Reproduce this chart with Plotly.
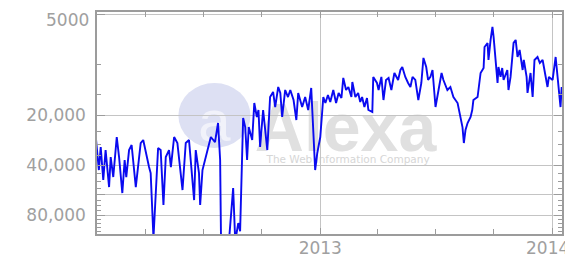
import numpy as np
import pandas as pd
import plotly.graph_objects as go

# decimal years and Alexa traffic rank values
years_2012 = [
    2012.033, 2012.047, 2012.055, 2012.066, 2012.076, 2012.091, 2012.098, 2012.109, 2012.124, 2012.134,
    2012.148, 2012.158, 2012.165, 2012.177, 2012.188, 2012.206, 2012.227, 2012.238, 2012.263, 2012.270,
    2012.282, 2012.302, 2012.313, 2012.325, 2012.335, 2012.349, 2012.357, 2012.371, 2012.385, 2012.407,
    2012.421, 2012.435, 2012.457, 2012.464, 2012.478, 2012.483, 2012.493, 2012.507, 2012.529, 2012.547,
    2012.560, 2012.569, 2012.573, 2012.595, 2012.608, 2012.625, 2012.634, 2012.647, 2012.655, 2012.668,
    2012.677, 2012.685, 2012.692, 2012.707, 2012.716, 2012.727, 2012.734, 2012.741, 2012.754, 2012.772,
    2012.784, 2012.797, 2012.806, 2012.819, 2012.828, 2012.836, 2012.849, 2012.861, 2012.871, 2012.885,
    2012.897, 2012.905, 2012.922, 2012.935, 2012.948, 2012.961, 2012.970, 2012.978, 2012.987, 2013.000,
]
ranks_2012 = [
    26390, 42870, 31170, 49250, 32490, 54270, 35800, 47240, 27130, 35800,
    58960, 37320, 47240, 32490, 30310, 54270, 29490, 28280, 41130, 44690,
    110000, 31600, 32490, 69640, 35800, 32490, 41130, 27130, 29490, 56570,
    29490, 28280, 64980, 32490, 44690, 69640, 42870, 35800, 27130, 29080,
    22350, 37320, 120000, 160000, 110000, 55030, 115000, 89390, 100000, 20840,
    23630, 37320, 23630, 28280, 16940, 20560, 18660, 31170, 18660, 32490,
    15590, 14540, 17910, 13560, 14740, 20560, 14140, 15590, 14140, 16250,
    21440, 14740, 17910, 15590, 18660, 13750, 23630, 42870, 33870, 27130,
]
years_2013 = [
    2013.013, 2013.022, 2013.033, 2013.043, 2013.056, 2013.068, 2013.079, 2013.091, 2013.099, 2013.111,
    2013.121, 2013.134, 2013.138, 2013.151, 2013.163, 2013.172, 2013.180, 2013.190, 2013.201, 2013.207,
    2013.224, 2013.228, 2013.244, 2013.251, 2013.263, 2013.272, 2013.283, 2013.294, 2013.306, 2013.319,
    2013.335, 2013.345, 2013.353, 2013.366, 2013.378, 2013.388, 2013.397, 2013.409, 2013.422, 2013.435,
    2013.444, 2013.456, 2013.464, 2013.474, 2013.483, 2013.496, 2013.509, 2013.522, 2013.530, 2013.547,
    2013.560, 2013.573, 2013.591, 2013.603, 2013.612, 2013.618, 2013.625, 2013.634, 2013.647, 2013.654,
    2013.659, 2013.677, 2013.690, 2013.703, 2013.707, 2013.720, 2013.724, 2013.733, 2013.741, 2013.746,
    2013.754, 2013.763, 2013.767, 2013.776, 2013.783, 2013.789, 2013.805, 2013.810, 2013.819, 2013.832,
    2013.841, 2013.849, 2013.858, 2013.871, 2013.876, 2013.888, 2013.892, 2013.905, 2013.914, 2013.922,
    2013.935, 2013.945, 2013.957, 2013.966, 2013.978, 2013.984, 2014.000, 2014.013, 2014.022, 2014.026,
    2014.034, 2014.039,
]
ranks_2013 = [
    15590, 16940, 15160, 16700, 14140, 16940, 14740, 15800, 11970, 14140,
    13560, 15590, 12660, 15590, 14740, 16700, 15590, 17910, 15800, 18660,
    19170, 11800, 12830, 14140, 11800, 16250, 12310, 11970, 14140, 11170,
    12310, 10720, 10290, 11800, 12830, 13560, 11800, 12310, 16250, 12830,
    9070, 10290, 12310, 11800, 10720, 17910, 14140, 11170, 12310, 14140,
    13560, 15590, 16940, 20560, 23630, 29490, 24620, 22350, 20560, 18660,
    16250, 15590, 11170, 10430, 7800, 7370, 9330, 7070, 5900, 6780,
    8950, 12830, 10290, 11800, 10430, 12310, 10720, 14140, 11800, 7370,
    7070, 8950, 8120, 10720, 9330, 11800, 14740, 11170, 15590, 9330,
    8950, 9730, 9330, 10720, 13560, 11800, 12310, 8950, 12310, 14740,
    17910, 13560,
]

y_tickvals = [5000, 20000, 40000, 60000, 80000]
y_ticktext = ["", "20,000", "40,000", "", "80,000"]
top_label = "5000"
y_minor = [10000, 15000, 25000, 30000, 35000, 45000, 50000, 55000,
           65000, 70000, 75000, 85000, 90000, 95000, 100000]
x_tickvals = ["2013-01-01", "2014-01-01"]
x_ticktext = ["2013", ""]
last_year_label = "2014"
x_range = ["2012-01-16", "2014-01-16"]
y_range = [4800, 104000]

years = np.array(years_2012 + years_2013)
ranks = np.array(ranks_2012 + ranks_2013)
base = pd.Timestamp("2013-01-01")
dates = [base + pd.Timedelta(days=float((t - 2013.0) * 365.25)) for t in years]

fig = go.Figure()
fig.add_trace(go.Scatter(x=dates, y=ranks, mode="lines",
                         line=dict(color="#0a0af0", width=1.9),
                         showlegend=False))

grey = "#9c9c9c"
tickfont = dict(family="DejaVu Sans", size=17, color="#a0a0a0")

# the page has an 8px body margin, so the figure is sized to fill the rest
fig.update_layout(
    width=565, height=251,
    margin=dict(l=89, r=11, t=4, b=25),
    paper_bgcolor="white", plot_bgcolor="white",
    xaxis=dict(type="date", range=x_range, automargin=False,
               tickmode="array", tickvals=x_tickvals, ticktext=x_ticktext,
               ticks="inside", ticklen=6, tickcolor=grey,
               showgrid=True, gridcolor="#c4c4c4", gridwidth=1,
               showline=True, linecolor=grey, linewidth=1.5, mirror="ticks",
               tickfont=tickfont, ticklabelstandoff=-2, ticklabeloverflow="allow",
               minor=dict(dtick="M3", tick0="2012-01-01", ticks="inside",
                          ticklen=5, tickcolor=grey, showgrid=False),
               zeroline=False),
    yaxis=dict(type="log", automargin=False,
               range=[np.log10(y_range[1]), np.log10(y_range[0])],
               tickmode="array", tickvals=y_tickvals, ticktext=y_ticktext,
               ticks="inside", ticklen=8, tickcolor=grey,
               showgrid=True, gridcolor="#c4c4c4", gridwidth=1,
               showline=True, linecolor=grey, linewidth=1.5, mirror="ticks",
               tickfont=tickfont, ticklabelstandoff=6,
               minor=dict(tickmode="array", tickvals=y_minor, ticks="inside",
                          ticklen=4, tickcolor=grey, showgrid=False),
               zeroline=False),
)

fig.add_annotation(text=top_label, xref="paper", yref="paper", x=0, y=0.964,
                   xanchor="right", yanchor="middle", xshift=-6, showarrow=False,
                   font=tickfont)
fig.add_annotation(text=last_year_label, xref="paper", yref="paper", x=1, y=0,
                   xanchor="right", yanchor="middle", xshift=9, yshift=-14,
                   showarrow=False, font=tickfont)

# Alexa watermark (drawn beneath the line)
fig.add_shape(type="circle", xref="paper", yref="paper",
              x0=0.175, x1=0.330, y0=0.387, y1=0.680,
              fillcolor="#dde0f3", line=dict(width=0), layer="below",
              label=dict(text="a", font=dict(family="Liberation Sans", size=58,
                                             color="#f1f2fa")))
fig.add_shape(type="rect", xref="paper", yref="paper",
              x0=0.33, x1=0.739, y0=0.392, y1=0.626,
              fillcolor="rgba(0,0,0,0)", line=dict(width=0), layer="below",
              label=dict(text="<b>Alexa</b>", font=dict(family="Liberation Sans", size=68,
                                                        color="#e0e0e0")))
fig.add_shape(type="rect", xref="paper", yref="paper",
              x0=0.341, x1=0.739, y0=0.31, y1=0.37,
              fillcolor="rgba(0,0,0,0)", line=dict(width=0), layer="below",
              label=dict(text="The Web Information Company",
                         font=dict(family="DejaVu Sans", size=10.5, color="#d6d6d6")))

fig.write_html("out.html")
